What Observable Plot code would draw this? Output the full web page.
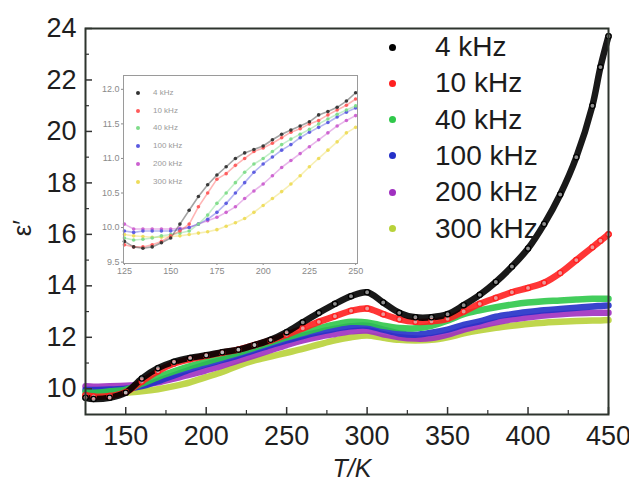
<!DOCTYPE html>
<html>
<head>
<meta charset="utf-8">
<script src="https://cdn.jsdelivr.net/npm/d3@7"></script>
<script src="https://cdn.jsdelivr.net/npm/@observablehq/plot@0.6"></script>
<style>
  html, body { margin: 0; padding: 0; background: #fff; }
  #wrap { position: relative; width: 629px; height: 482px; overflow: hidden; font-family: "Liberation Sans", Arial, sans-serif; }
  #wrap > svg, #wrap > .abs { position: absolute; }
  .leg { position: absolute; font-size: 28px; color: #1c1c1c; white-space: nowrap; line-height: 36px; }
  .legdot { position: absolute; width: 7px; height: 7px; border-radius: 50%; }
  .ileg { position: absolute; font-size: 8px; color: #9a9a9a; white-space: nowrap; line-height: 12px; }
  .ilegdot { position: absolute; width: 4px; height: 4px; border-radius: 50%; }
</style>
</head>
<body>
<div id="wrap"></div>
<script>
// ---------- data ----------
const freqLabels = ["4 kHz", "10 kHz", "40 kHz", "100 kHz", "200 kHz", "300 kHz"];
const freqColors = ["#000000", "#ff2020", "#2fc84a", "#2430c8", "#a030c0", "#b8d23a"];
const insetColors = ["#333333", "#ff5a5a", "#7fdc8a", "#5a5ae0", "#cc60d0", "#eedc5a"];

const temps = [125,130,140,150,160,170,180,190,200,210,220,230,240,250,260,270,280,290,300,310,320,330,340,350,360,370,380,390,400,410,420,430,440,445,450];
const eps4k   = [9.65,9.6,9.65,9.85,10.4,10.8,11.05,11.2,11.3,11.42,11.52,11.7,11.9,12.2,12.58,12.95,13.3,13.6,13.75,13.35,12.95,12.78,12.78,12.9,13.25,13.65,14.15,14.75,15.45,16.4,17.55,19.0,21.0,22.5,23.7];
const eps10k  = [9.75,9.7,9.72,9.87,10.28,10.68,10.98,11.15,11.28,11.4,11.52,11.7,11.88,12.1,12.35,12.6,12.82,13.03,13.12,12.9,12.7,12.6,12.62,12.72,13.0,13.3,13.53,13.75,13.92,14.12,14.5,15.0,15.5,15.75,16.0];
const eps40k  = [9.87,9.85,9.9,9.97,10.2,10.45,10.68,10.88,11.05,11.22,11.4,11.6,11.8,12.0,12.17,12.35,12.5,12.6,12.58,12.45,12.36,12.35,12.45,12.65,12.9,13.05,13.17,13.27,13.35,13.4,13.43,13.47,13.5,13.5,13.5];
const eps100k = [9.95,9.95,9.97,10.0,10.1,10.3,10.52,10.75,10.95,11.12,11.3,11.5,11.7,11.88,12.05,12.2,12.33,12.43,12.45,12.3,12.15,12.1,12.18,12.3,12.48,12.62,12.8,12.9,12.98,13.05,13.1,13.15,13.2,13.22,13.24];
const eps200k = [10.1,10.08,10.1,10.12,10.15,10.25,10.4,10.55,10.72,10.9,11.1,11.3,11.5,11.7,11.88,12.02,12.13,12.23,12.26,12.12,12.0,11.95,11.97,12.1,12.3,12.45,12.58,12.7,12.78,12.85,12.9,12.93,12.95,12.95,12.95];
const eps300k = [9.75,9.75,9.8,9.85,9.9,9.98,10.1,10.25,10.45,10.65,10.9,11.1,11.25,11.4,11.55,11.72,11.88,12.0,12.07,11.98,11.9,11.88,11.9,12.0,12.15,12.27,12.37,12.45,12.52,12.57,12.6,12.63,12.65,12.65,12.67];

const insetTemps = [125,130,135,140,145,150,155,160,165,170,175,180,185,190,195,200,205,210,215,220,225,230,235,240,245,250];
const in4k   = [9.8,9.72,9.7,9.72,9.78,9.85,10.05,10.25,10.45,10.62,10.76,10.88,11.0,11.08,11.13,11.18,11.27,11.35,11.41,11.47,11.53,11.63,11.68,11.74,11.83,11.95];
const in10k  = [9.75,9.72,9.72,9.75,9.8,9.88,9.95,10.05,10.3,10.5,10.7,10.78,10.9,11.0,11.1,11.15,11.22,11.3,11.38,11.43,11.5,11.55,11.63,11.7,11.77,11.86];
const in40k  = [9.85,9.82,9.83,9.85,9.88,9.9,9.92,9.95,10.05,10.18,10.35,10.5,10.65,10.8,10.92,11.0,11.1,11.2,11.28,11.35,11.42,11.5,11.57,11.64,11.7,11.76];
const in100k = [9.95,9.93,9.95,9.95,9.95,9.95,9.97,10.0,10.05,10.12,10.22,10.35,10.5,10.65,10.8,10.92,11.02,11.12,11.2,11.3,11.38,11.45,11.52,11.6,11.67,11.73];
const in200k = [10.05,9.98,9.98,9.98,9.98,9.98,9.99,10.0,10.05,10.1,10.15,10.22,10.3,10.42,10.53,10.63,10.75,10.87,10.97,11.07,11.17,11.27,11.37,11.47,11.55,11.62];
const in300k = [9.9,9.88,9.87,9.86,9.86,9.87,9.88,9.9,9.92,9.94,9.97,10.02,10.07,10.13,10.22,10.32,10.42,10.52,10.63,10.75,10.88,11.0,11.12,11.24,11.37,11.45];

const xMajor = [150,200,250,300,350,400,450];
const xMinor = [175,225,275,325,375,425];
const yMajor = [10,12,14,16,18,20,22,24];
const yMinor = [11,13,15,17,19,21,23];
const insetXTicks = [125,150,175,200,225,250];
const insetYTicks = [9.5,10.0,10.5,11.0,11.5,12.0];

// ---------- tables ----------
const mainSeries = [eps4k, eps10k, eps40k, eps100k, eps200k, eps300k];
const insetSeries = [in4k, in10k, in40k, in100k, in200k, in300k];
const mainData = [];
mainSeries.forEach((arr, i) => arr.forEach((v, j) => mainData.push({T: temps[j], v, f: freqLabels[i], order: i})));
const insetData = [];
insetSeries.forEach((arr, i) => arr.forEach((v, j) => insetData.push({T: insetTemps[j], v, f: freqLabels[i], order: i})));
// draw 300 kHz first so that 4 kHz is on top
mainData.sort((a, b) => b.order - a.order);
insetData.sort((a, b) => b.order - a.order);
const beadData = mainData.filter(d => d.order <= 1);

const wrap = document.getElementById("wrap");

// ---------- main plot ----------
const mW = 629, mH = 482, mL = 85, mR = 21, mT = 28, mB = 68;
const innerH = mH - mT - mB, innerW = mW - mL - mR;
const main = Plot.plot({
  width: mW, height: mH,
  marginLeft: mL, marginRight: mR, marginTop: mT, marginBottom: mB,
  x: {domain: [125, 450]},
  y: {domain: [9, 24]},
  color: {domain: freqLabels, range: freqColors},
  style: {fontFamily: "'Liberation Sans', Arial, sans-serif", fontSize: "27px", color: "#1e1e1e", background: "transparent"},
  marks: [
    Plot.line(mainData, {x: "T", y: "v", z: "f", stroke: "f", strokeWidth: 6.5, curve: "catmull-rom", strokeOpacity: 0.9}),
    Plot.dot(beadData, {x: "T", y: "v", stroke: "f", fill: "#ddd", r: 2.6, strokeWidth: 1.3, fillOpacity: 0.6}),
    Plot.tickX(xMajor, {x: d => d, insetTop: innerH - 7, stroke: "#333", strokeWidth: 1.5}),
    Plot.tickX(xMinor, {x: d => d, insetTop: innerH - 4, stroke: "#333", strokeWidth: 1.2}),
    Plot.tickY(yMajor, {y: d => d, insetRight: innerW - 7, stroke: "#333", strokeWidth: 1.5}),
    Plot.tickY(yMinor, {y: d => d, insetRight: innerW - 4, stroke: "#333", strokeWidth: 1.2}),
    Plot.axisX({ticks: xMajor, tickSize: 0, tickPadding: 11, label: null}),
    Plot.axisY({ticks: yMajor, tickSize: 0, tickPadding: 9, label: null}),
    Plot.frame({stroke: "#2e352e", strokeWidth: 2})
  ]
});
main.style.left = "0px"; main.style.top = "0px";
wrap.appendChild(main);

// ---------- inset plot ----------
const iW = 282, iH = 215, iL = 35, iR = 13, iT = 5, iB = 22;
const inset = Plot.plot({
  width: iW, height: iH,
  marginLeft: iL, marginRight: iR, marginTop: iT, marginBottom: iB,
  x: {domain: [124.5, 251]},
  y: {domain: [9.48, 12.2]},
  color: {domain: freqLabels, range: insetColors},
  style: {fontFamily: "'Liberation Sans', Arial, sans-serif", fontSize: "9px", color: "#8a8a8a", background: "transparent"},
  marks: [
    Plot.frame({fill: "white"}),
    Plot.line(insetData, {x: "T", y: "v", z: "f", stroke: "f", strokeWidth: 1.6, strokeOpacity: 0.45}),
    Plot.dot(insetData, {x: "T", y: "v", fill: "f", r: 1.8, fillOpacity: 0.95}),
    Plot.axisX({ticks: insetXTicks, tickSize: 2, tickPadding: 2, label: null, tickFormat: d3.format("d")}),
    Plot.axisY({ticks: insetYTicks, tickSize: 2, tickPadding: 2, label: null, tickFormat: d3.format(".1f")}),
    Plot.frame({stroke: "#9a9a9a", strokeWidth: 1})
  ]
});
inset.style.left = "88px"; inset.style.top = "70px";
wrap.appendChild(inset);

// ---------- legends ----------
freqLabels.forEach((lab, i) => {
  const cy = 47 + i * 36.3;
  const dot = document.createElement("div");
  dot.className = "legdot";
  dot.style.left = (392 - 3.5) + "px"; dot.style.top = (cy - 3.5) + "px";
  dot.style.background = freqColors[i];
  wrap.appendChild(dot);
  const t = document.createElement("div");
  t.className = "leg";
  t.style.left = "435px"; t.style.top = (cy - 18) + "px";
  t.textContent = lab;
  wrap.appendChild(t);

  const icy = 93 + i * 17.7;
  const idot = document.createElement("div");
  idot.className = "ilegdot";
  idot.style.left = (138 - 2) + "px"; idot.style.top = (icy - 2) + "px";
  idot.style.background = insetColors[i];
  wrap.appendChild(idot);
  const it = document.createElement("div");
  it.className = "ileg";
  it.style.left = "153px"; it.style.top = (icy - 6) + "px";
  it.textContent = lab;
  wrap.appendChild(it);
});

// ---------- axis titles ----------
const xt = document.createElement("div");
xt.style.cssText = "position:absolute;left:352px;top:468px;transform:translate(-50%,-50%);font-size:25px;line-height:26px;font-style:italic;color:#222;white-space:nowrap;";
xt.textContent = "T/K";
wrap.appendChild(xt);
const yt = document.createElement("div");
yt.style.cssText = "position:absolute;left:22px;top:228px;transform:translate(-50%,-50%) rotate(-90deg);font-size:26px;color:#222;white-space:nowrap;";
yt.textContent = "ε′";
wrap.appendChild(yt);
</script>
</body>
</html>
